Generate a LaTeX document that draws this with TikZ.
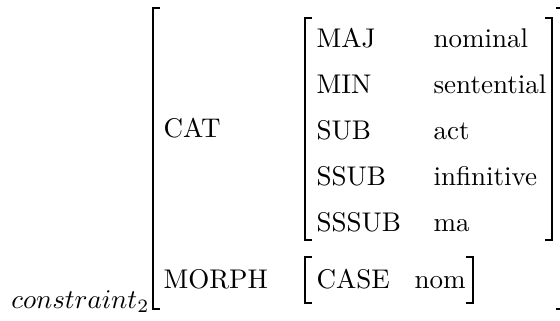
\documentclass[tikz,border=0pt]{standalone}
\usetikzlibrary{positioning}
\tikzstyle{attr} = [anchor=base west, inner sep=0pt]
\tikzstyle{bracket} = [line width=0.75pt]

\begin{document}
\begin{tikzpicture}[x=0.37pt,y=-0.37pt]
    \useasboundingbox (0,0) rectangle (560,320);
    % outer structure
    \node (label) [attr, anchor=base east] at (150,308) {$constraint_2$};
    \node (cat) [attr] at (163,137) {CAT};
    \node (morph) [attr] at (163,288) {MORPH};
    \draw [bracket] (160,8) -- (153,8) -- (153,309) -- (160,309);
    \draw [bracket] (556,8) -- (560,8);
    \draw [bracket] (556,309) -- (560,309);

    % value of CAT
    \node (maj) [attr] at (316,47) {MAJ};
    \node (min) [attr] at (316,93) {MIN};
    \node (sub) [attr] at (316,139) {SUB};
    \node (ssub) [attr] at (316,185) {SSUB};
    \node (sssub) [attr] at (316,231) {SSSUB};
    \node (majval) [attr] at (433,47) {nominal};
    \node (minval) [attr] at (433,93) {sentential};
    \node (subval) [attr] at (433,139) {act};
    \node (ssubval) [attr] at (433,185) {infinitive};
    \node (sssubval) [attr] at (433,231) {ma};
    \draw [bracket] (312,18) -- (305,18) -- (305,240) -- (312,240);
    \draw [bracket] (545,18) -- (552,18) -- (552,240) -- (545,240);

    % value of MORPH
    \node (case) [attr] at (316,288) {CASE};
    \node (caseval) [attr] at (414,288) {nom};
    \draw [bracket] (312,257) -- (305,257) -- (305,303) -- (312,303);
    \draw [bracket] (466,257) -- (473,257) -- (473,303) -- (466,303);
\end{tikzpicture}
\end{document}
